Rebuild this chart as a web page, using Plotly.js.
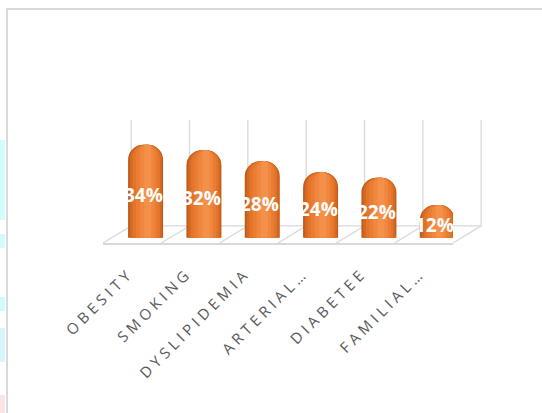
<!DOCTYPE html>
<html>
<head>
<meta charset="utf-8">
<script src="https://cdn.plot.ly/plotly-3.0.1.min.js"></script>
<style>
  html, body { margin:0; padding:0; background:#fff; }
  #wrap { position:relative; width:542px; height:413px; overflow:hidden; background:#fff; }
  #chart { position:absolute; left:0; top:0; width:542px; height:413px; }
  #frame { position:absolute; left:6px; top:8px; width:600px; height:500px;
           border-left:2px solid #d9d9d9; border-top:2px solid #d9d9d9; pointer-events:none; }
  .strip { position:absolute; left:0; width:5px; }
  .xtick text { letter-spacing: 4.1px; }
</style>
</head>
<body>
<div id="wrap">
  <div class="strip" style="top:140px;height:80px;background:#d2fbfb"></div>
  <div class="strip" style="top:234px;height:14px;background:#d2fbfb"></div>
  <div class="strip" style="top:297px;height:14px;background:#d2fbfb"></div>
  <div class="strip" style="top:328px;height:34px;background:#d6f4fb"></div>
  <div class="strip" style="top:395px;height:18px;background:#fde4e4"></div>
  <div id="chart"></div>
  <div id="frame"></div>
</div>
<script>
var categories = ['OBESITY', 'SMOKING', 'DYSLIPIDEMIA', 'ARTERIAL…', 'DIABETEE', 'FAMILIAL…'];
var values = [34, 32, 28, 24, 22, 12];

var yMin = -1.9, yMax = 43.1;
var xMin = -0.5, xMax = 5.5;
function px(v) { return (v - xMin) / (xMax - xMin); }
function py(v) { return (v - yMin) / (yMax - yMin); }

var backShift = 0.483;   // depth shift of back wall (category units)
var floorBack = 4.38;    // back floor level (value units)
var gridColor = '#d9d9d9';

var shapes = [];
for (var k = 0; k <= categories.length; k++) {
  var xb = k - 0.5 + backShift;
  shapes.push({type:'line', xref:'paper', yref:'paper', layer:'below',
    x0:px(xb), x1:px(xb), y0:py(floorBack), y1:py(yMax),
    line:{color:gridColor, width:1.3}});
  shapes.push({type:'line', xref:'paper', yref:'paper', layer:'below',
    x0:px(k - 0.5), x1:px(xb), y0:py(yMin), y1:py(floorBack),
    line:{color:gridColor, width:1.3}});
}
shapes.push({type:'line', xref:'paper', yref:'paper', layer:'below',
  x0:px(-0.5 + backShift), x1:px(categories.length - 0.5 + backShift),
  y0:py(floorBack), y1:py(floorBack), line:{color:gridColor, width:1.3}});

var barCenter = 0.23;   // bar centre relative to category (category units)
function layerBar(color, width, shift, radius) {
  return {
    type:'bar', x:categories, y:values,
    width:width, offset:barCenter - width / 2 + shift,
    marker:{color:color, cornerradius:radius, line:{width:0}},
    hoverinfo:'skip', showlegend:false
  };
}

var traces = [
  layerBar('#bf5a1c', 0.60, 0.000, 15),
  layerBar('#d46920', 0.55, 0.005, 14),
  layerBar('#e3742b', 0.47, 0.012, 12),
  layerBar('#eb7d33', 0.37, 0.020, 10),
  layerBar('#f0873e', 0.25, 0.028, 8),
  layerBar('#f39049', 0.12, 0.035, 5)
];

var annotations = categories.map(function (c, i) {
  return {
    x:c, y:values[i] / 2, xref:'x', yref:'y',
    text:values[i] + '%', showarrow:false,
    xshift:11, yshift:-4,
    font:{family:'Open Sans', size:19, color:'#ffffff', weight:700}
  };
});

var layout = {
  width:542, height:413,
  margin:{l:102.8, r:88.8, t:119.7, b:170, pad:0},
  paper_bgcolor:'rgba(0,0,0,0)', plot_bgcolor:'rgba(0,0,0,0)',
  barmode:'overlay',
  showlegend:false,
  xaxis:{type:'category', range:[xMin, xMax], showgrid:false, zeroline:false,
    showline:true, linecolor:gridColor, linewidth:1.5,
    ticks:'', tickangle:-45, ticklabelstandoff:14, ticklabelshift:-3,
    tickfont:{family:'Open Sans', size:15, color:'#595959'}, fixedrange:true},
  yaxis:{range:[yMin, yMax], showgrid:false, zeroline:false, showline:false,
    showticklabels:false, ticks:'', fixedrange:true},
  shapes:shapes,
  annotations:annotations
};

Plotly.newPlot('chart', traces, layout, {displayModeBar:false, staticPlot:true});
</script>
</body>
</html>
